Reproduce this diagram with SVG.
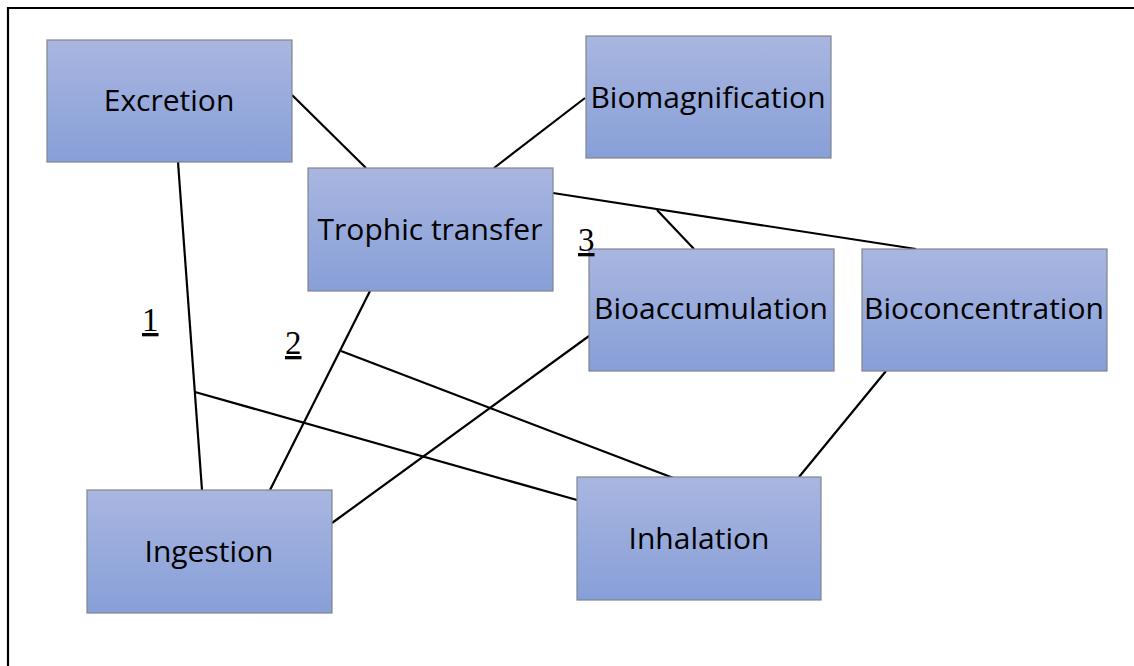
<svg xmlns="http://www.w3.org/2000/svg" width="1134" height="666" viewBox="0 0 1134 666">
<style>
.box{fill:url(#g);stroke:#7f8590;stroke-width:1.2}
.lbl{font-family:"Open Sans","Liberation Sans",sans-serif;font-size:30px;fill:#000;text-anchor:middle}
.num{font-family:"Liberation Serif",serif;font-size:33px;fill:#000;text-decoration:underline}
.ln{stroke:#000;stroke-width:2.2;fill:none}
</style>
<defs>
<linearGradient id="g" x1="0" y1="0" x2="0" y2="1">
<stop offset="0" stop-color="#a9b6e0"/>
<stop offset="1" stop-color="#879fd8"/>
</linearGradient>
</defs>
<rect width="1134" height="666" fill="#fff"/>
<path d="M8 666V8H1134" stroke="#000" stroke-width="2.2" fill="none"/>
<g id="connectors">
<line class="ln" x1="292" y1="95" x2="366" y2="168"/>
<line class="ln" x1="585" y1="98" x2="494" y2="168"/>
<line class="ln" x1="553" y1="193" x2="916" y2="249"/>
<line class="ln" x1="657" y1="210" x2="694" y2="249"/>
<line class="ln" x1="178" y1="162" x2="202" y2="490"/>
<line class="ln" x1="195" y1="392" x2="577" y2="500"/>
<line class="ln" x1="341" y1="351" x2="676" y2="479"/>
<line class="ln" x1="370" y1="291" x2="270" y2="490"/>
<line class="ln" x1="589" y1="336" x2="332" y2="523"/>
<line class="ln" x1="886" y1="371" x2="799" y2="477"/>
</g>
<g id="excretion"><rect class="box" x="47" y="40" width="245" height="122"/><text class="lbl" x="169" y="111">Excretion</text></g>
<g id="biomagnification"><rect class="box" x="586" y="36" width="245" height="122"/><text class="lbl" x="708" y="108">Biomagnification</text></g>
<g id="trophic"><rect class="box" x="308" y="168" width="245" height="123"/><text class="lbl" x="430" y="240">Trophic transfer</text></g>
<g id="bioaccumulation"><rect class="box" x="589" y="249" width="245" height="122"/><text class="lbl" x="711" y="319">Bioaccumulation</text></g>
<g id="bioconcentration"><rect class="box" x="862" y="249" width="245" height="122"/><text class="lbl" x="984" y="319">Bioconcentration</text></g>
<g id="ingestion"><rect class="box" x="87" y="490" width="245" height="123"/><text class="lbl" x="209" y="562">Ingestion</text></g>
<g id="inhalation"><rect class="box" x="577" y="477" width="244" height="123"/><text class="lbl" x="699" y="549">Inhalation</text></g>
<g id="labels">
<text class="num" x="142" y="331">1</text>
<text class="num" x="285" y="354">2</text>
<text class="num" x="578" y="251">3</text>
</g>
</svg>
